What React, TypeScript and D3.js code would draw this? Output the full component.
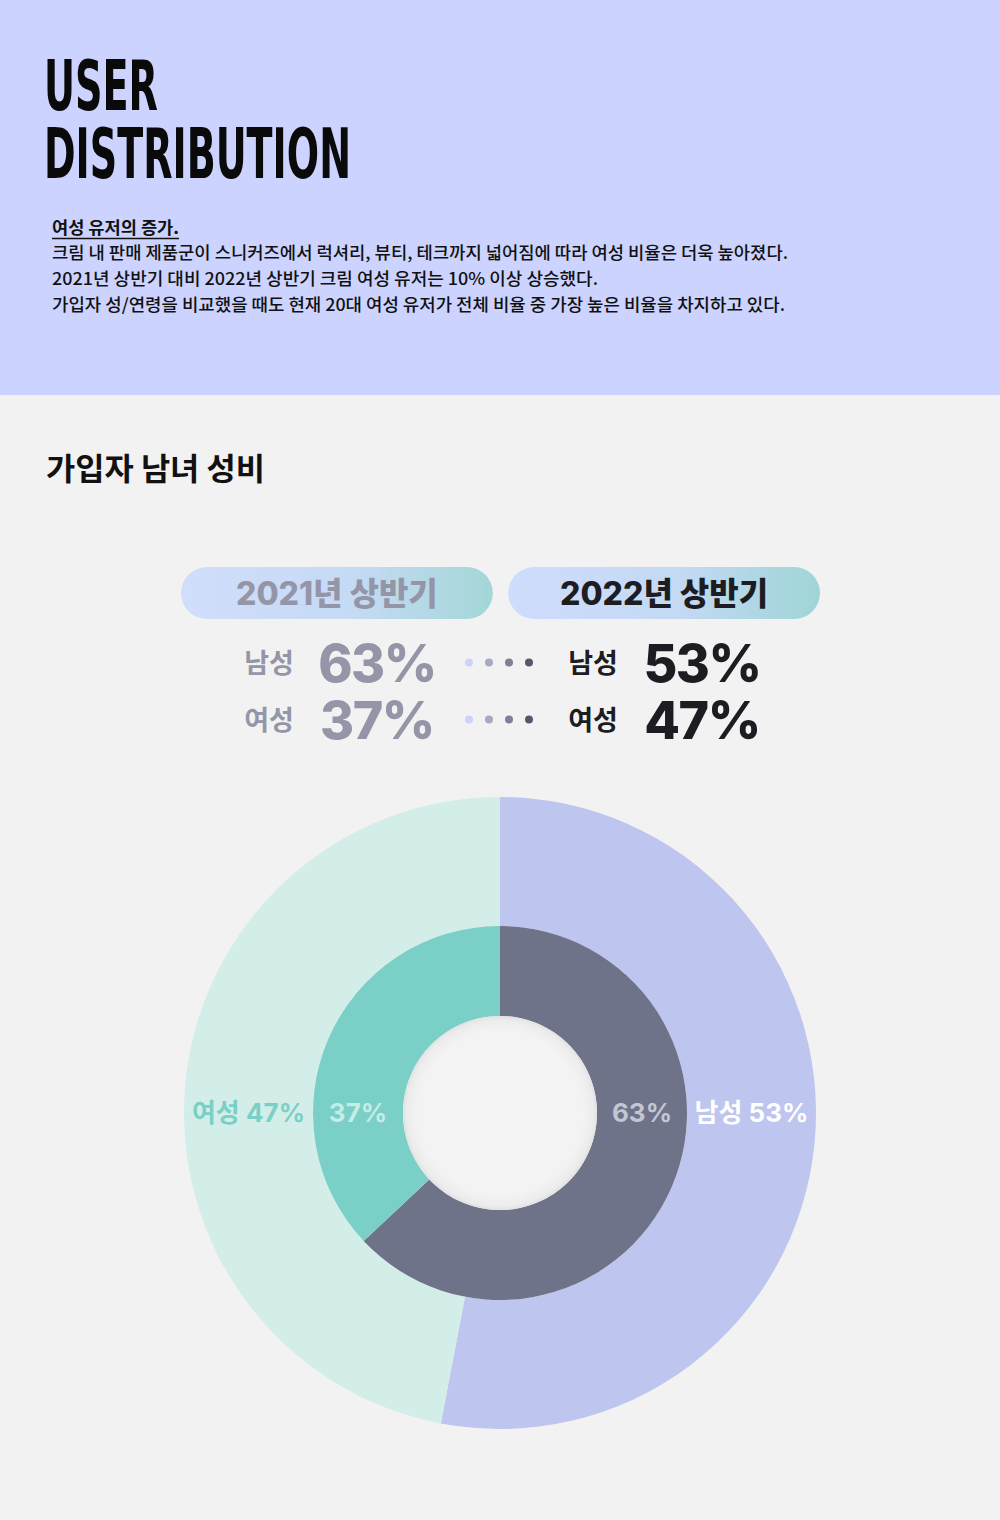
import React from 'react';
import * as d3 from 'd3';

const years = ['2021년 상반기', '2022년 상반기'];
const genders = ['남성', '여성'];
const share2021 = [63, 37];
const share2022 = [53, 47];
const headline = ['USER', 'DISTRIBUTION'];
const noteTitle = '여성 유저의 증가.';
const noteLines = [
  '크림 내 판매 제품군이 스니커즈에서 럭셔리, 뷰티, 테크까지 넓어짐에 따라 여성 비율은 더욱 높아졌다.',
  '2021년 상반기 대비 2022년 상반기 크림 여성 유저는 10% 이상 상승했다.',
  '가입자 성/연령을 비교했을 때도 현재 20대 여성 유저가 전체 비율 중 가장 높은 비율을 차지하고 있다.',
];
const sectionTitle = '가입자 남녀 성비';

const W = 1000;
const H = 1520;
const KR = "'Noto Sans CJK KR', 'Noto Sans', sans-serif";
const NUM = "Inter, 'Noto Sans CJK KR', sans-serif";

const dotColors = ['#cdd3f8', '#a6a9c6', '#7d8096', '#55586a'];

export default function App() {
  const cx = 500;
  const cy = 1113;
  const rHole = 97;
  const rMid = 187;
  const rOuter = 316;

  const pie = d3.pie<number>().sort(null).value((d) => d);
  const inner = pie(share2021);
  const outer = pie(share2022);
  const arcInner = d3.arc<d3.PieArcDatum<number>>().innerRadius(rHole).outerRadius(rMid);
  const arcOuter = d3.arc<d3.PieArcDatum<number>>().innerRadius(rMid).outerRadius(rOuter);
  const innerColors = ['#6e7389', '#7acfc6'];
  const outerColors = ['#bec5ee', '#d3eee9'];

  const lineWidths = [736, 546, 733];

  const pillX = d3.scaleBand<string>().domain(years).range([181, 820]).paddingInner(0.047);
  const rowY = d3.scaleBand<string>().domain(genders).range([634, 748]);

  return (
    <svg width={W} height={H} style={{ position: 'absolute', left: 0, top: 0 }} xmlns="http://www.w3.org/2000/svg">
      <defs>
        <linearGradient id="pillGrad" x1="0" x2="1" y1="0" y2="0">
          <stop offset="0" stopColor="#cfdcfc" />
          <stop offset="0.55" stopColor="#c3d9f4" />
          <stop offset="1" stopColor="#9fd5d6" />
        </linearGradient>
        <radialGradient id="holeGrad" cx="0.5" cy="0.5" r="0.5">
          <stop offset="0.85" stopColor="#f3f3f3" />
          <stop offset="0.96" stopColor="#ececec" />
          <stop offset="1" stopColor="#e2e2e2" />
        </radialGradient>
      </defs>
      <rect x={0} y={0} width={W} height={H} fill="#f2f2f2" />
      <rect x={0} y={0} width={W} height={395} fill="#ccd3ff" />

      {headline.map((t, i) => (
        <text
          key={t}
          x={44}
          y={110 + i * 68}
          fontFamily="'Liberation Sans Narrow', 'DejaVu Sans Condensed', 'Liberation Sans', sans-serif"
          fontWeight={700}
          fontSize={70}
          fill="#0a0a0a"
          textLength={i === 0 ? 114 : 307}
          lengthAdjust="spacingAndGlyphs"
        >
          {t}
        </text>
      ))}

      <text x={52} y={234} fontFamily={KR} fontWeight={700} fontSize={17} fill="#111" textLength={127} lengthAdjust="spacingAndGlyphs">
        {noteTitle}
      </text>
      <line x1={52} x2={179} y1={238.5} y2={238.5} stroke="#111" strokeWidth={1.5} />
      {noteLines.map((t, i) => (
        <text
          key={i}
          x={52}
          y={259 + i * 26}
          fontFamily={KR}
          fontWeight={500}
          fontSize={17}
          fill="#111"
          textLength={lineWidths[i]}
          lengthAdjust="spacingAndGlyphs"
        >
          {t}
        </text>
      ))}

      <text x={46} y={480} fontFamily={KR} fontWeight={700} fontSize={31} fill="#111" textLength={219} lengthAdjust="spacingAndGlyphs">
        {sectionTitle}
      </text>

      {years.map((y, i) => {
        const x0 = pillX(y)!;
        const bw = pillX.bandwidth();
        return (
          <g key={y}>
            <rect x={x0} y={567} width={bw} height={52} rx={26} fill="url(#pillGrad)" opacity={i === 0 ? 0.95 : 1} />
            <text
              x={x0 + bw / 2}
              y={605}
              textAnchor="middle"
              fontFamily={NUM}
              fontWeight={800}
              fontSize={32}
              fill={i === 0 ? '#9496a8' : '#1c1c22'}
            >
              {y}
            </text>
          </g>
        );
      })}

      {genders.map((g, gi) => {
        const yc = rowY(g)! + rowY.bandwidth() / 2;
        const values = [share2021[gi], share2022[gi]];
        return (
          <g key={g}>
            {values.map((v, yi) => {
              const colour = yi === 0 ? '#9496a8' : '#1c1c22';
              const labelX = yi === 0 ? 269 : 593;
              const numX = yi === 0 ? 377 : 702;
              return (
                <g key={yi}>
                  <text x={labelX} y={yc + 10} textAnchor="middle" fontFamily={KR} fontWeight={700} fontSize={27} fill={colour}>
                    {g}
                  </text>
                  <text
                    x={numX}
                    y={yc + 19}
                    textAnchor="middle"
                    fontFamily={NUM}
                    fontWeight={800}
                    fontSize={52}
                    letterSpacing={-1.5}
                    fill={colour}
                  >
                    {v}%
                  </text>
                </g>
              );
            })}
            {dotColors.map((c, di) => (
              <circle key={di} cx={469 + di * 20} cy={yc} r={4} fill={c} />
            ))}
          </g>
        );
      })}

      <g transform={`translate(${cx},${cy})`}>
        {outer.map((d, i) => (
          <path key={'o' + i} d={arcOuter(d)!} fill={outerColors[i]} />
        ))}
        {inner.map((d, i) => (
          <path key={'i' + i} d={arcInner(d)!} fill={innerColors[i]} />
        ))}
        <circle r={rHole} fill="url(#holeGrad)" />
        <text x={-(rMid + rOuter) / 2} y={9} textAnchor="middle" fontFamily={NUM} fontWeight={700} fontSize={26} fill="#7acfc6">
          {genders[1]} {share2022[1]}%
        </text>
        <text x={-(rHole + rMid) / 2} y={9} textAnchor="middle" fontFamily={NUM} fontWeight={700} fontSize={26} fill="#c6ece6">
          {share2021[1]}%
        </text>
        <text x={(rHole + rMid) / 2} y={9} textAnchor="middle" fontFamily={NUM} fontWeight={700} fontSize={26} fill="#c4c6d2">
          {share2021[0]}%
        </text>
        <text x={(rMid + rOuter) / 2} y={9} textAnchor="middle" fontFamily={NUM} fontWeight={700} fontSize={26} fill="#ffffff">
          {genders[0]} {share2022[0]}%
        </text>
      </g>
    </svg>
  );
}
